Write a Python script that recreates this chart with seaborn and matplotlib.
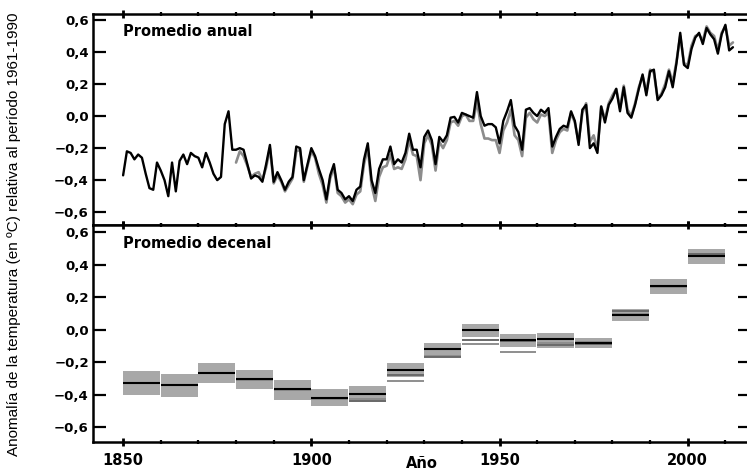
import numpy as np
import pandas as pd
import seaborn as sns
import matplotlib.pyplot as plt
from matplotlib.ticker import FuncFormatter, MultipleLocator

# Serie anual principal (negra), 1850-2012
anios_negro = list(range(1850, 2013))
anual_negro = [
    -0.37, -0.22, -0.23, -0.27, -0.24, -0.26, -0.36, -0.45, -0.46, -0.29,
    -0.34, -0.40, -0.50, -0.29, -0.47, -0.28, -0.24, -0.30, -0.23, -0.25,
    -0.26, -0.32, -0.23, -0.29, -0.36, -0.40, -0.38, -0.05, 0.03, -0.21,
    -0.21, -0.20, -0.21, -0.30, -0.39, -0.37, -0.38, -0.41, -0.30, -0.18,
    -0.41, -0.35, -0.40, -0.46, -0.41, -0.38, -0.19, -0.20, -0.40, -0.30,
    -0.20, -0.25, -0.33, -0.40, -0.52, -0.37, -0.30, -0.46, -0.48, -0.52,
    -0.50, -0.53, -0.46, -0.44, -0.27, -0.17, -0.40, -0.48, -0.33, -0.27,
    -0.27, -0.19, -0.30, -0.27, -0.29, -0.23, -0.11, -0.21, -0.21, -0.32,
    -0.13, -0.09, -0.15, -0.30, -0.13, -0.16, -0.12, -0.01, -0.005, -0.04,
    0.02, 0.01, 0.00, -0.01, 0.15, 0.00, -0.06, -0.05, -0.05, -0.07,
    -0.17, -0.03, 0.03, 0.10, -0.06, -0.10, -0.21, 0.04, 0.05, 0.02,
    0.00, 0.04, 0.02, 0.05, -0.19, -0.13, -0.08, -0.06, -0.07, 0.03,
    -0.03, -0.18, 0.04, 0.07, -0.20, -0.17, -0.23, 0.06, -0.04, 0.07,
    0.11, 0.17, 0.03, 0.18, 0.02, -0.01, 0.07, 0.17, 0.26, 0.13,
    0.28, 0.29, 0.10, 0.13, 0.18, 0.28, 0.18, 0.33, 0.52, 0.32,
    0.30, 0.42, 0.49, 0.52, 0.45, 0.55, 0.51, 0.48, 0.39, 0.51,
    0.57, 0.41, 0.43,
]

# Segunda serie anual (gris), 1880-2012
anios_gris = list(range(1880, 2013))
anual_gris = [
    -0.29, -0.22, -0.25, -0.31, -0.38, -0.36, -0.35, -0.40, -0.32, -0.20,
    -0.42, -0.37, -0.41, -0.47, -0.43, -0.39, -0.22, -0.21, -0.41, -0.31,
    -0.22, -0.26, -0.36, -0.43, -0.54, -0.39, -0.32, -0.48, -0.50, -0.54,
    -0.52, -0.55, -0.49, -0.47, -0.30, -0.20, -0.43, -0.53, -0.38, -0.32,
    -0.31, -0.24, -0.33, -0.32, -0.33, -0.27, -0.15, -0.24, -0.25, -0.40,
    -0.17, -0.12, -0.18, -0.34, -0.16, -0.20, -0.15, -0.04, -0.03, -0.06,
    0.00, 0.01, -0.03, -0.03, 0.09, -0.05, -0.14, -0.14, -0.15, -0.15,
    -0.23, -0.09, -0.04, 0.04, -0.12, -0.15, -0.25, -0.01, 0.02, -0.02,
    -0.04, 0.01, 0.00, 0.02, -0.23, -0.15, -0.10, -0.08, -0.09, 0.02,
    -0.04, -0.16, 0.02, 0.08, -0.16, -0.12, -0.21, 0.06, -0.02, 0.08,
    0.13, 0.17, 0.05, 0.19, 0.04, 0.00, 0.08, 0.18, 0.25, 0.15,
    0.29, 0.27, 0.11, 0.14, 0.20, 0.29, 0.21, 0.34, 0.50, 0.33,
    0.32, 0.44, 0.50, 0.51, 0.47, 0.56, 0.52, 0.50, 0.41, 0.52,
    0.56, 0.44, 0.46,
]

# Promedios decenales
decadas = [1850, 1860, 1870, 1880, 1890, 1900, 1910, 1920,
           1930, 1940, 1950, 1960, 1970, 1980, 1990, 2000]
dec_negro = [-0.325, -0.337, -0.263, -0.30, -0.362, -0.417, -0.393, -0.245,
             -0.12, -0.003, -0.065, -0.054, -0.081, 0.093, 0.27, 0.454]
dec_inf = [-0.40, -0.413, -0.325, -0.362, -0.43, -0.471, -0.444, -0.29,
           -0.167, -0.044, -0.105, -0.112, -0.11, 0.054, 0.223, 0.403]
dec_sup = [-0.253, -0.274, -0.204, -0.249, -0.31, -0.366, -0.346, -0.204,
           -0.079, 0.034, -0.024, -0.02, -0.048, 0.126, 0.313, 0.50]
decadas_otras = decadas[3:]
dec_oscuro = [-0.30, -0.365, -0.42, -0.435, -0.28, -0.168, -0.062,
              -0.07, -0.095, -0.085, 0.116, 0.27, 0.469]
dec_claro = [-0.31, -0.37, -0.425, -0.425, -0.315, -0.16, -0.089,
             -0.136, -0.08, -0.075, 0.10, 0.265, 0.46]

yticks = [-0.6, -0.4, -0.2, 0.0, 0.2, 0.4, 0.6]
xticks = [1850, 1900, 1950, 2000]

sns.set_style("ticks")
plt.rcParams['font.family'] = ['DejaVu Sans']
plt.rcParams.update({'text.color': 'black', 'axes.edgecolor': 'black',
                     'xtick.color': 'black', 'ytick.color': 'black',
                     'axes.labelcolor': 'black'})

fig = plt.figure(figsize=(7.47, 4.73), dpi=100)
W, H = 747, 473
left, right = 93 / W, 751 / W
ax1 = fig.add_axes([left, 1 - 225 / H, right - left, (225 - 14) / H])
ax2 = fig.add_axes([left, 1 - 442 / H, right - left, (442 - 225) / H])

df_n = pd.DataFrame({'anio': anios_negro, 'valor': anual_negro})
df_g = pd.DataFrame({'anio': anios_gris, 'valor': anual_gris})
sns.lineplot(data=df_g, x='anio', y='valor', ax=ax1, color='#8c8c8c', lw=1.9)
sns.lineplot(data=df_n, x='anio', y='valor', ax=ax1, color='black', lw=1.7)

# cajas decenales
ancho = 9.8
alturas = [s - i for s, i in zip(dec_sup, dec_inf)]
ax2.bar(decadas, alturas, bottom=dec_inf, width=ancho, align='edge',
        color='#a8a8a8', edgecolor='none')
ax2.hlines(dec_claro, decadas_otras, [d + ancho for d in decadas_otras],
           color='#8e8e8e', lw=1.4)
ax2.hlines(dec_oscuro, decadas_otras, [d + ancho for d in decadas_otras],
           color='#6a6a6a', lw=1.4)
ax2.hlines(dec_negro, decadas, [d + ancho for d in decadas],
           color='black', lw=1.5)

fmt = FuncFormatter(lambda v, p: f"{v:.1f}".replace('.', ',').replace('-', '\u2212'))

for ax, ylim in [(ax1, (-0.68, 0.6375)), (ax2, (-0.69, 0.645))]:
    ax.set_xlim(1842.0, 2016.8)
    ax.set_ylim(*ylim)
    ax.set_yticks(yticks)
    ax.yaxis.set_major_formatter(fmt)
    ax.set_xticks(xticks)
    ax.xaxis.set_minor_locator(MultipleLocator(10))
    ax.set_xlabel('')
    ax.set_ylabel('')
    for s in ax.spines.values():
        s.set_visible(True)
        s.set_linewidth(1.8)
        s.set_color('black')
    ax.tick_params(axis='y', which='major', direction='in', length=9.5,
                   width=1.6, left=True, right=True, labelsize=9.5, pad=3)
    ax.tick_params(axis='x', which='major', direction='inout', length=6,
                   width=2.0, top=True, bottom=True)
    ax.tick_params(axis='x', which='minor', direction='inout', length=3.5,
                   width=1.6, top=True, bottom=True)
    for lab in ax.get_yticklabels():
        lab.set_fontweight('bold')

ax1.tick_params(axis='x', labelbottom=False)
ax2.tick_params(axis='x', labelsize=10.5, pad=5)
for lab in ax2.get_xticklabels():
    lab.set_fontweight('bold')

ax1.text(1850, 0.53, 'Promedio anual', fontsize=10.5, fontweight='bold',
         va='center', ha='left')
ax2.text(1850, 0.53, 'Promedio decenal', fontsize=10.5, fontweight='bold',
         va='center', ha='left')

ax2.set_xlabel('Año', fontsize=10.5, fontweight='bold', labelpad=-9)
fig.text(14 / W, 0.505, 'Anomalía de la temperatura (en ºC) relativa al período 1961-1990',
         rotation=90, va='center', ha='center', fontsize=11,
         family=['Liberation Sans'])

fig.savefig('out.png', dpi=100)
